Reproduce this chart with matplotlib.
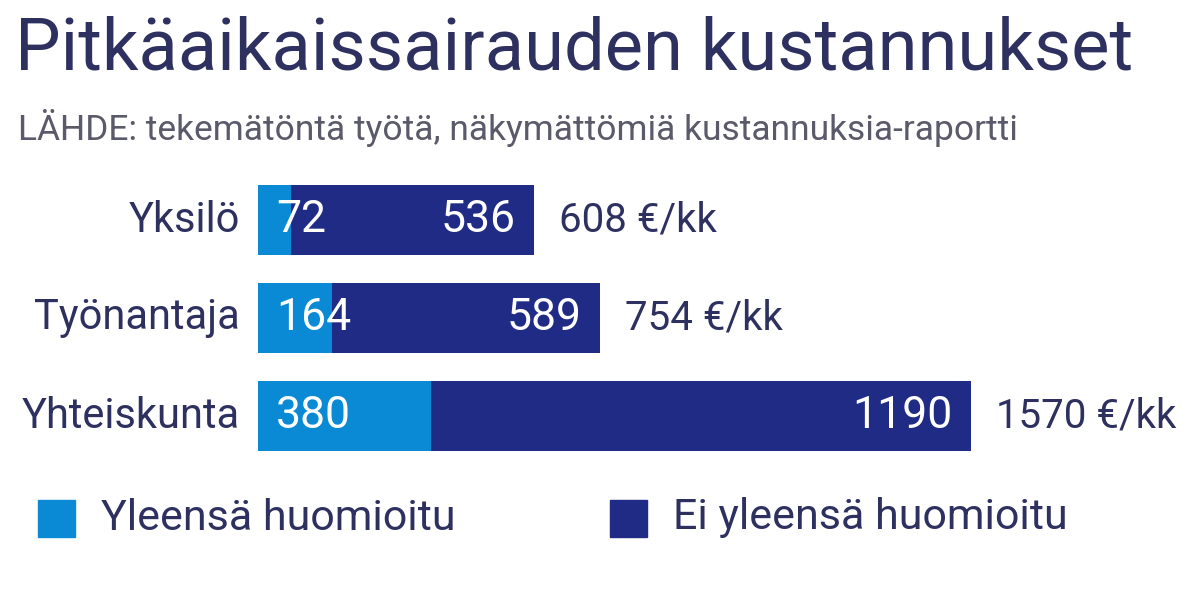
import matplotlib
matplotlib.use("Agg")
import matplotlib.pyplot as plt
from matplotlib.patches import Rectangle

categories = ["Yksilö", "Työnantaja", "Yhteiskunta"]
seen = [72, 164, 380]
unseen = [536, 589, 1190]
totals = [608, 754, 1570]
legend_labels = ["Yleensä huomioitu", "Ei yleensä huomioitu"]

LIGHT = "#0a8ad4"
DARK = "#1f2b85"
TXT = "#2e3160"
FONT = ["Liberation Sans Narrow", "Roboto", "DejaVu Sans"]
plt.rcParams['font.family'] = FONT

W, H = 1197, 589
fig = plt.figure(figsize=(W/100, H/100), dpi=100)
fig.patch.set_facecolor("white")

ax = fig.add_axes([258/W, 1-465/H, (W-258)/W, 294/H])
ax.set_xlim(0, (W-258)/0.454)
ax.set_ylim(2.5, -0.5)
ax.axis("off")

ys = range(len(categories))
ax.barh(ys, seen, height=0.714, color=LIGHT)
ax.barh(ys, unseen, left=seen, height=0.714, color=DARK)
px = 1/0.454
for y, c, s, u, t in zip(ys, categories, seen, unseen, totals):
    ax.text(-18*px, y, c, ha="right", va="center", fontsize=30, color=TXT)
    ax.text(18*px, y, str(s), ha="left", va="center", fontsize=32, color="white")
    ax.text(s+u-18*px, y, str(u), ha="right", va="center", fontsize=32, color="white")
    ax.text(s+u+25*px, y, f"{t} €/kk", ha="left", va="center", fontsize=29, color=TXT)

fig.text(15/W, 1-50/H, "Pitkäaikaissairauden kustannukset", fontsize=52, color=TXT,
         va="center", ha="left")
fig.text(18/W, 1-128/H, "LÄHDE: tekemätöntä työtä, näkymättömiä kustannuksia-raportti",
         fontsize=25.5, color="#5a5a6a", va="center", ha="left")

for x0, col, lab in [(38, LIGHT, legend_labels[0]), (610, DARK, legend_labels[1])]:
    fig.patches.append(Rectangle((x0/W, 1-537/H), 37/W, 37/H, color=col,
                                 transform=fig.transFigure, figure=fig))
    fig.text((x0+63)/W, 1-518/H, lab, fontsize=31, color=TXT, va="center", ha="left")

fig.savefig("out.png", dpi=100)
